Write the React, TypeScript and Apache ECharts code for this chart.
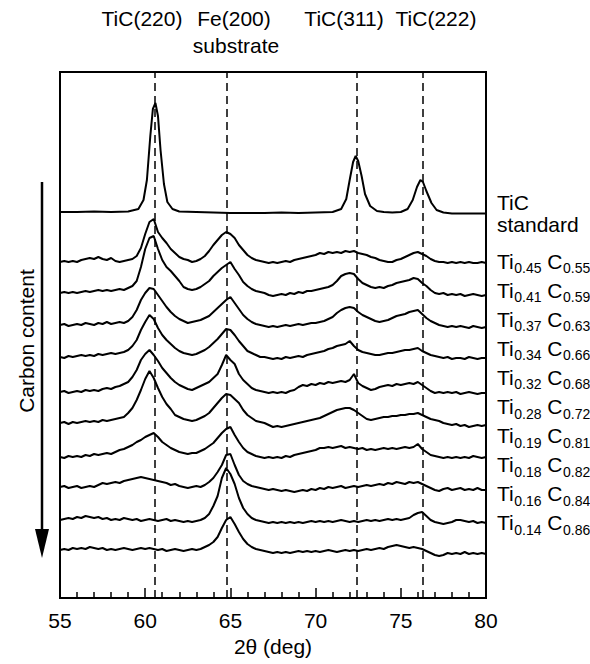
import React, { useEffect, useRef } from "react";
import * as echarts from "echarts";

// 2θ sampling grid for the measured films (deg)
const twoTheta = Array.from({ length: 101 }, (_, i) => 55 + i * 0.25);

// TiC standard pattern
const stdTheta = [55, 56, 57, 58, 59, 59.6, 59.9, 60.1, 60.3, 60.45, 60.6, 60.75, 60.9, 61.1, 61.3, 61.6, 62, 63, 64, 65, 66, 67, 68, 69, 70, 71, 71.5, 71.8, 72.0, 72.2, 72.35, 72.5, 72.7, 72.9, 73.2, 73.6, 74, 74.5, 75, 75.4, 75.7, 75.95, 76.15, 76.3, 76.5, 76.8, 77.1, 77.5, 78, 79, 80];
const stdIntensity = [0, 0, 0.5, 0, 0.5, 3, 12, 32, 76, 103, 109, 96, 62, 28, 10, 3, 0.5, 0, -0.5, -1, -1, -1, -0.5, -1, -0.5, 0, 3, 13, 32, 50, 56, 51, 36, 18, 6, 1, 0, -0.5, 0, 3, 12, 25, 32, 30, 21, 9, 2, -0.5, -1.5, -1.5, -1.5];
const stdOffset = 386;

// measured films (intensity above each trace's baseline)
const tiFractions = ["0.45", "0.41", "0.37", "0.34", "0.32", "0.28", "0.19", "0.18", "0.16", "0.14"];
const cFractions = ["0.55", "0.59", "0.63", "0.66", "0.68", "0.72", "0.81", "0.82", "0.84", "0.86"];
const sampleOffsets = [336, 305, 273, 241, 206, 175, 141, 111, 78, 48];

const s045 = [
  0, 1, 0, 1, 0, 2, 3, 4, 3, 5, 3, 2, 4, 1, 0, 1, 2, 3, 6, 14,
  28, 40, 43, 30, 24, 19, 13, 9, 5, 3, 2, 0, 1, 3, 6, 11, 17, 22, 27, 30,
  28, 24, 17, 12, 7, 4, 2, 1, 0, -1, 0, -1, 0, 1, 0, 2, 3, 4, 5, 6,
  7, 9, 8, 10, 9, 10, 9, 11, 10, 11, 9, 8, 7, 5, 4, 2, 1, 0, 0, 2,
  3, 5, 7, 9, 10, 8, 6, 3, 1, 0, 0, -1, 0, -1, 0, -1, 0, -1, -1, 0, -1,
];
const s041 = [
  0, 1, 0, 1, 0, 1, 2, 1, 2, 3, 2, 3, 2, 3, 4, 3, 5, 7, 12, 26,
  44, 55, 57, 44, 33, 26, 22, 17, 12, 6, 4, 3, 4, 6, 9, 12, 17, 21, 25, 28,
  31, 24, 18, 11, 7, 4, 2, 1, 0, -2, -3, -2, -1, -2, 0, -1, 1, 0, 2, 2,
  3, 4, 5, 6, 8, 12, 17, 19, 20, 19, 14, 10, 8, 6, 5, 6, 5, 7, 8, 10,
  11, 12, 13, 15, 14, 10, 7, 3, 0, -1, 0, -2, -1, -2, -1, -3, -2, -1, -2, -3, -2,
];
const s037 = [
  0, 1, -1, 0, 1, 0, 2, 1, 0, 2, 1, 3, 1, 2, 3, 2, 4, 8, 15, 25,
  32, 37, 36, 30, 24, 18, 13, 9, 6, 4, 2, 3, 4, 5, 7, 9, 13, 17, 21, 25,
  28, 22, 16, 10, 6, 3, 1, 0, -1, -2, -1, -2, -1, 0, -1, 0, 1, 0, 1, 2,
  2, 3, 4, 6, 8, 12, 15, 17, 18, 17, 13, 10, 8, 6, 4, 3, 4, 5, 7, 9,
  10, 11, 13, 14, 15, 11, 7, 4, 2, 0, -1, -2, -1, -2, -1, -2, -3, -1, -2, -3, -2,
];
const s034 = [
  0, -1, 1, 0, 1, 2, 1, 2, 1, 3, 2, 3, 4, 3, 4, 5, 7, 11, 17, 27,
  35, 42, 38, 29, 22, 17, 13, 9, 6, 4, 3, 2, 3, 5, 7, 10, 14, 18, 23, 28,
  27, 22, 16, 11, 6, 4, 2, 0, 0, -1, -2, -1, -2, 0, -1, 0, 1, 0, 2, 3,
  4, 5, 6, 8, 9, 11, 12, 13, 16, 11, 7, 5, 4, 3, 2, 2, 3, 4, 4, 5,
  6, 7, 7, 8, 9, 6, 4, 2, 1, 0, -1, 0, -2, -1, -1, -2, 0, -1, -2, -1, -1,
];
const s032 = [
  0, 1, -1, 0, 1, 0, 2, 1, 2, 1, 3, 4, 3, 5, 6, 8, 10, 15, 22, 32,
  38, 42, 37, 31, 24, 19, 14, 10, 7, 5, 3, 2, 4, 6, 8, 10, 14, 18, 27, 37,
  32, 28, 18, 12, 8, 4, 2, 1, 0, -1, 0, -1, 0, -1, 1, 2, 5, 7, 6, 8,
  7, 9, 8, 10, 9, 10, 11, 10, 12, 18, 9, 6, 4, 2, 3, 5, 6, 7, 6, 8,
  7, 8, 9, 8, 10, 7, 4, 1, -1, 0, -1, 0, -1, 0, -2, -1, 0, -1, -2, -1, -1,
];
const s028 = [
  0, 1, -1, 1, 0, 1, 2, 1, 2, 1, 3, 2, 3, 4, 5, 6, 10, 15, 23, 33,
  44, 52, 45, 35, 26, 19, 14, 8, 6, 4, 3, 2, 3, 5, 7, 10, 15, 20, 25, 29,
  28, 24, 20, 13, 8, 5, 2, 1, 0, -2, -4, -3, -4, -3, -2, -1, 0, 1, 2, 3,
  4, 5, 7, 9, 11, 13, 14, 15, 15, 13, 10, 7, 4, 3, 4, 5, 6, 6, 7, 7,
  8, 8, 9, 9, 10, 8, 6, 4, 3, 2, 0, -1, -2, -1, -3, -2, -4, -3, -2, -3, -2,
];
const s019 = [
  0, -1, 1, 0, 1, 0, 2, 1, 3, 2, 3, 4, 3, 5, 7, 8, 10, 12, 15, 17,
  20, 22, 24, 20, 15, 12, 9, 7, 5, 4, 3, 4, 4, 6, 8, 11, 14, 19, 24, 28,
  30, 22, 15, 9, 5, 3, 1, 0, -1, 0, -1, 0, -1, 1, 0, 2, 3, 4, 5, 6,
  7, 9, 9, 10, 9, 10, 11, 9, 10, 9, 8, 9, 7, 8, 7, 8, 9, 8, 9, 8,
  9, 10, 9, 10, 13, 8, 5, 2, 1, 0, -1, 0, -1, 0, -1, 0, -1, 1, 0, -1, 0,
];
const s018 = [
  0, 1, -1, 0, 1, -1, 0, 1, 0, 2, 4, 3, 4, 5, 4, 6, 7, 8, 9, 10,
  9, 8, 7, 6, 5, 4, 2, 3, 1, 0, -1, 0, 1, 0, 2, 5, 9, 15, 22, 32,
  33, 22, 12, 6, 3, 1, 0, -1, -2, -3, -2, -3, -4, -3, -4, -5, -4, -3, -4, -2,
  -3, -1, -2, 0, -1, 0, 1, -1, 0, 1, 0, 1, 2, 1, 2, 3, 2, 4, 3, 5,
  4, 3, 5, 4, 5, 3, 1, -1, -3, -4, -2, -1, -3, -2, -1, -3, -2, -3, -1, -3, -3,
];
const s016 = [
  0, 1, 2, 1, 3, 2, 4, 3, 2, 3, 1, 2, 0, 1, 0, 2, 1, 0, 1, -1,
  0, 1, 0, -1, 0, 1, -1, 0, -1, -2, -1, -2, -1, 0, 2, 6, 14, 24, 42, 52,
  46, 36, 22, 12, 6, 2, 0, -1, -2, -3, -2, -3, -2, -3, -2, -3, -2, -3, -2, -1,
  -2, -1, -2, -1, -2, -1, 0, -1, -2, -1, -2, -1, 0, -1, 0, -1, 0, 1, 0, 1,
  0, 1, 2, 5, 7, 8, 4, 0, -2, -3, -4, -3, -2, 0, 0, -1, -2, -1, -3, -2, -3,
];
const s014 = [
  0, 1, 0, 2, 1, 2, 1, 3, 2, 1, 2, 0, 1, 0, 1, 2, 1, 0, 1, 2,
  1, 2, 1, 0, 1, -1, 0, 1, 0, -1, 0, 1, 0, 1, 3, 5, 8, 13, 22, 30,
  33, 26, 18, 11, 6, 3, 1, 0, -1, -2, -3, -2, -3, -2, -3, -2, -1, -2, -1, -2,
  -1, -2, -1, 0, -1, -2, -1, 0, -1, 0, -1, 0, 1, 0, 1, 2, 1, 3, 4, 5,
  4, 3, 2, 3, 2, 1, -1, -3, -5, -6, -5, -3, -4, -3, -4, -2, -4, -3, -4, -3, -4,
];
const samples = [s045, s041, s037, s034, s032, s028, s019, s018, s016, s014];

// reference peak positions and labels
const peakPositions = [60.57, 64.77, 72.44, 76.26];
const peakLabels = ["TiC(220)", "Fe(200)", "TiC(311)", "TiC(222)"];

const FONT = "'Liberation Sans', Arial, Helvetica, sans-serif";

function measure(text: string, size: number): number {
  const c = document.createElement("canvas").getContext("2d");
  if (!c) return text.length * size * 0.55;
  c.font = `${size}px 'Liberation Sans', Arial, sans-serif`;
  return c.measureText(text).width;
}

export default function App() {
  const ref = useRef<HTMLDivElement>(null);
  useEffect(() => {
    if (!ref.current) return;
    const chart = echarts.init(ref.current, undefined, { renderer: "svg" });

    const lineStyle = { color: "#000", width: 2 };
    const series: any[] = [
      {
        type: "line",
        data: stdTheta.map((x, i) => [x, stdOffset + stdIntensity[i]]),
        showSymbol: false,
        lineStyle,
        silent: true,
        markLine: {
          silent: true,
          symbol: ["none", "none"],
          label: { show: false },
          lineStyle: { color: "#000", width: 1.5, type: [8, 5] },
          data: peakPositions.map((p) => ({ xAxis: p })),
        },
      },
      ...samples.map((arr, k) => ({
        type: "line",
        data: twoTheta.map((x, i) => [x, sampleOffsets[k] + arr[i]]),
        showSymbol: false,
        lineStyle,
        silent: true,
      })),
    ];

    const labelCenters = [142, 234, 344, 436];
    const graphics: any[] = [];
    peakLabels.forEach((t, i) => {
      graphics.push({
        type: "text",
        x: labelCenters[i],
        y: 18,
        style: { text: t, fontSize: 21, fontFamily: FONT, fill: "#000", align: "center", verticalAlign: "middle" },
      });
    });
    graphics.push({
      type: "text",
      x: 236,
      y: 45,
      style: { text: "substrate", fontSize: 21, fontFamily: FONT, fill: "#000", align: "center", verticalAlign: "middle" },
    });
    // arrow
    graphics.push({
      type: "line",
      shape: { x1: 42, y1: 182, x2: 42, y2: 532 },
      style: { stroke: "#000", lineWidth: 2.5 },
    });
    graphics.push({
      type: "polygon",
      shape: { points: [[35, 529], [49, 529], [42, 558]] },
      style: { fill: "#000" },
    });
    graphics.push({
      type: "text",
      x: 26,
      y: 341,
      rotation: Math.PI / 2,
      style: { text: "Carbon content", fontSize: 21, fontFamily: FONT, fill: "#000", align: "center", verticalAlign: "middle" },
    });
    // right labels
    graphics.push({
      type: "text",
      x: 497,
      y: 202,
      style: { text: "TiC", fontSize: 21, fontFamily: FONT, fill: "#000", align: "left", verticalAlign: "middle" },
    });
    graphics.push({
      type: "text",
      x: 497,
      y: 224,
      style: { text: "standard", fontSize: 21, fontFamily: FONT, fill: "#000", align: "left", verticalAlign: "middle" },
    });
    const wTi = measure("Ti", 21);
    const wC = measure(" C", 21);
    tiFractions.forEach((ti, i) => {
      const y = 261 + 29.1 * i;
      const x0 = 497;
      const wSub = measure(ti, 14);
      graphics.push({ type: "text", x: x0, y, style: { text: "Ti", fontSize: 21, fontFamily: FONT, fill: "#000", align: "left", verticalAlign: "middle" } });
      graphics.push({ type: "text", x: x0 + wTi + 0.5, y: y + 7, style: { text: ti, fontSize: 14, fontFamily: FONT, fill: "#000", align: "left", verticalAlign: "middle" } });
      const x1 = x0 + wTi + 0.5 + wSub;
      graphics.push({ type: "text", x: x1, y, style: { text: " C", fontSize: 21, fontFamily: FONT, fill: "#000", align: "left", verticalAlign: "middle" } });
      graphics.push({ type: "text", x: x1 + wC + 0.5, y: y + 7, style: { text: cFractions[i], fontSize: 14, fontFamily: FONT, fill: "#000", align: "left", verticalAlign: "middle" } });
    });

    chart.setOption({
      animation: false,
      backgroundColor: "#fff",
      grid: { left: 60, right: 104, top: 72, bottom: 66, show: true, borderColor: "#000", borderWidth: 2, backgroundColor: "transparent" },
      xAxis: {
        type: "value",
        min: 55,
        max: 80,
        interval: 5,
        name: "2θ (deg)",
        nameLocation: "middle",
        nameGap: 38,
        nameTextStyle: { fontSize: 21, color: "#000", fontFamily: FONT },
        axisLine: { show: true, lineStyle: { color: "#000", width: 2 } },
        axisTick: { show: true, inside: true, length: 10, lineStyle: { color: "#000", width: 1.5 } },
        minorTick: { show: true, splitNumber: 5, length: 6, lineStyle: { color: "#000", width: 1.5 } },
        axisLabel: { color: "#000", fontSize: 21, margin: 12, fontFamily: FONT },
        splitLine: { show: false },
        minorSplitLine: { show: false },
      },
      yAxis: { type: "value", min: 0, max: 526, show: false },
      series,
      graphic: graphics,
    });
    return () => chart.dispose();
  }, []);
  return <div ref={ref} style={{ position: "fixed", left: 0, top: 0, width: 590, height: 664 }} />;
}
